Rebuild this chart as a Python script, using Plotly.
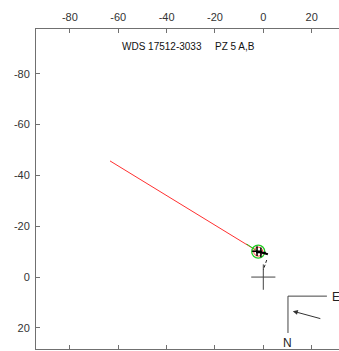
import plotly.graph_objects as go

# --- data (arcsec-like units, y reversed) ---
x_ticks = [-80, -60, -40, -20, 0, 20]
y_ticks = [-80, -60, -40, -20, 0, 20]

orbit_x = [-63.4, -2.1]          # red line
orbit_y = [-45.7, -10.0]
green_x = [-6.9, -2.1]           # short green segment
green_y = [-13.0, -10.0]
star_x = [-2.1]
star_y = [-10.0]
plus_x = [-2.6, -1.0]
plus_y = [-10.2, -9.7]
motion_x = [-2.1, 1.9]           # black short line
motion_y = [-10.0, -9.0]
dash_x = [1.4, 0.0]              # dashed line toward origin
dash_y = [-6.7, -2.8]
cross_h_x = [-5, 5]
cross_h_y = [0, 0]
cross_v_x = [0, 0]
cross_v_y = [-5, 5]
compass_x = [26.3, 10.2, 10.2]
compass_y = [7.5, 7.5, 22.0]
arrow_from = (24.2, 16.5)
arrow_to = (12.2, 13.4)
label_E = (27.5, 7.9)
label_N = (10.2, 26.0)
title_parts = ["WDS 17512-3033", "PZ 5 A,B"]
title_pos = [(-42.1, -90.6), (-11.7, -90.6)]

FONT = "Arial, 'Liberation Sans', Helvetica, sans-serif"

fig = go.Figure()

def line(xs, ys, color, width=1, dash=None):
    fig.add_trace(go.Scatter(x=xs, y=ys, mode="lines",
                             line=dict(color=color, width=width, dash=dash),
                             hoverinfo="skip", showlegend=False))

line(orbit_x, orbit_y, "#ff3030", 1)
line(green_x, green_y, "#22cc22", 1)
line(cross_h_x, cross_h_y, "#444444", 1)
line(cross_v_x, cross_v_y, "#444444", 1)
line(compass_x, compass_y, "#444444", 1)
line(dash_x, dash_y, "#222222", 1, "3px,2px")

fig.add_trace(go.Scatter(x=star_x, y=star_y, mode="markers",
                         marker=dict(symbol="circle-open", size=13, color="#22cc22",
                                     line=dict(color="#22cc22", width=1.3)),
                         hoverinfo="skip", showlegend=False))
fig.add_trace(go.Scatter(x=star_x, y=star_y, mode="markers",
                         marker=dict(symbol="circle-open", size=9, color="#ff4040",
                                     line=dict(color="#ff4040", width=1)),
                         hoverinfo="skip", showlegend=False))
line(motion_x, motion_y, "#000000", 2)
fig.add_trace(go.Scatter(x=plus_x, y=plus_y, mode="markers",
                         marker=dict(symbol="cross-thin-open", size=7, color="#000000",
                                     line=dict(color="#000000", width=1.5)),
                         hoverinfo="skip", showlegend=False))

fig.add_annotation(x=arrow_to[0], y=arrow_to[1], ax=arrow_from[0], ay=arrow_from[1],
                   xref="x", yref="y", axref="x", ayref="y", text="",
                   showarrow=True, arrowhead=2, arrowsize=1, arrowwidth=1,
                   arrowcolor="#333333")
fig.add_annotation(x=label_E[0], y=label_E[1], text="E", showarrow=False,
                   xanchor="left", yanchor="middle",
                   font=dict(family=FONT, size=12, color="#222222"))
fig.add_annotation(x=label_N[0], y=label_N[1], text="N", showarrow=False,
                   xanchor="center", yanchor="middle",
                   font=dict(family=FONT, size=12, color="#222222"))
for t, (tx, ty) in zip(title_parts, title_pos):
    fig.add_annotation(x=tx, y=ty, text=t, showarrow=False,
                       xanchor="center", yanchor="middle",
                       font=dict(family=FONT, size=10, color="#111111"))

axis_common = dict(showgrid=False, zeroline=False, showline=True,
                   linecolor="#707070", linewidth=1,
                   ticks="inside", ticklen=4, tickcolor="#707070",
                   ticklabelstandoff=3,
                   tickfont=dict(family=FONT, size=11, color="#333333"))

fig.update_layout(
    width=339, height=351,
    margin=dict(l=36, r=0, t=29, b=2),
    plot_bgcolor="white", paper_bgcolor="white",
    xaxis=dict(range=[-94.0, 31.3], side="top", mirror="ticks",
               tickvals=x_ticks, ticktext=[str(v) for v in x_ticks], **axis_common),
    yaxis=dict(range=[28.3, -97.6], mirror=False,
               tickvals=y_ticks, ticktext=[str(v) for v in y_ticks], **axis_common),
)

fig.write_html("out.html")
